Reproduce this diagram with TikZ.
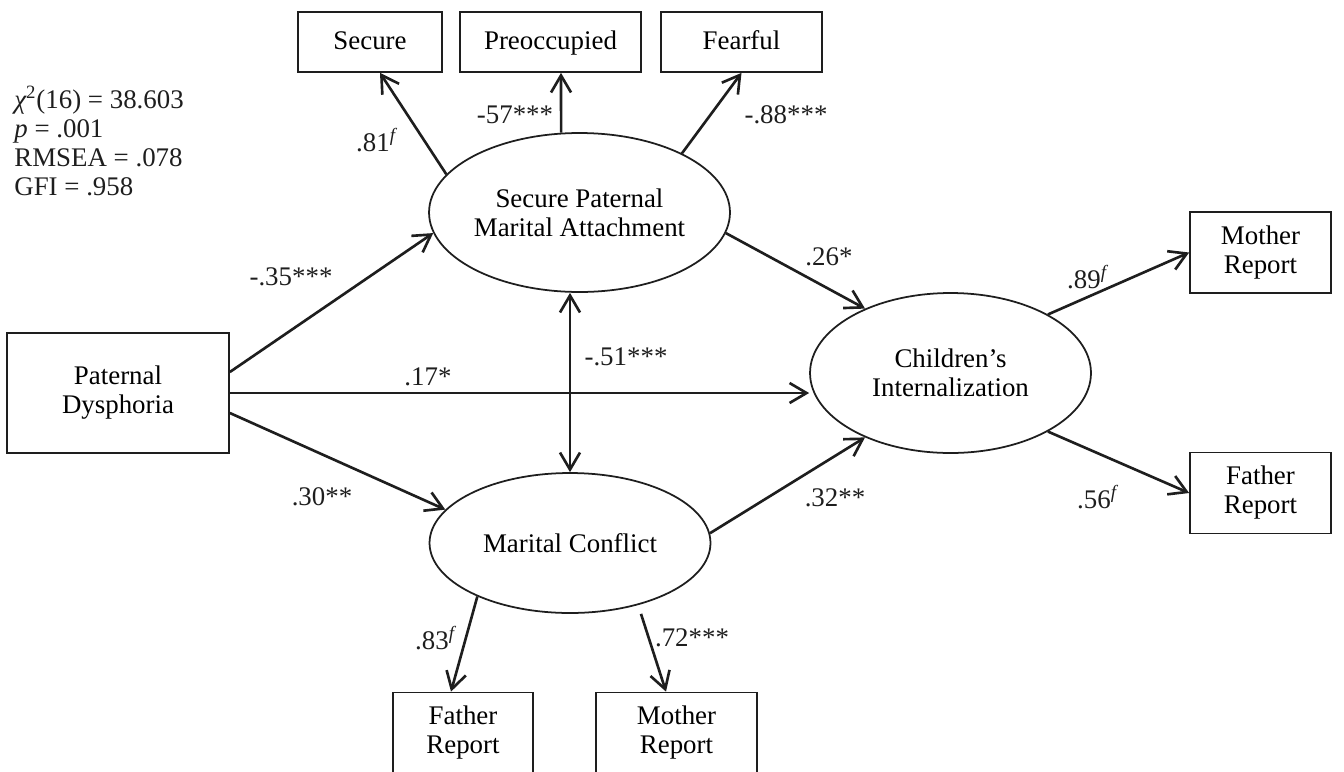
\documentclass[tikz,border=0pt]{standalone}
\usepackage{fontspec}
\setmainfont{Liberation Serif}
\usetikzlibrary{shapes.geometric, arrows.meta, positioning}
\definecolor{inkgray}{RGB}{30, 30, 30}
\tikzset{
  obsbox/.style={rectangle, draw=inkgray, line width=1pt, inner sep=0pt,
    align=center, minimum height=1.2cm},
  latent/.style={ellipse, draw=inkgray, line width=1pt, inner sep=0pt,
    align=center},
  effect/.style={line width=1.5pt, color=inkgray,
    -{Straight Barb[length=3.4mm, width=4mm]}},
  covar/.style={effect, {Straight Barb[length=3.4mm, width=4mm]}-{Straight Barb[length=3.4mm, width=4mm]}},
  coef/.style={inner sep=0pt, text=inkgray}
}

\begin{document}
\begin{tikzpicture}[
    x=0.02cm, y=-0.02cm,
    font=\fontsize{15.3}{16.5}\selectfont,
    report/.style={obsbox, minimum width=2.82cm, minimum height=1.62cm},
    style box/.style={obsbox, text height=2.2ex, text depth=0.3ex},
]
\clip (0,0) rectangle (1344,771);

\node (fitidx)  [coef, anchor=west, align=left] at (14,141)
      {{\itshape χ}\textsuperscript{2}(16) = 38.603\\ {\itshape p} = .001\\
       RMSEA = .078\\ GFI = .958};

\node (secure)  [style box, minimum width=2.88cm] at (370,42)    {Secure};
\node (preocc)  [style box, minimum width=3.62cm] at (550.5,42)  {Preoccupied};
\node (fearful) [style box, minimum width=3.22cm] at (741.5,42)  {Fearful};

\node (spma) [latent, minimum width=6.02cm, minimum height=3.18cm] at (579.5,212.5)
      {Secure Paternal\\Marital Attachment};
\node (pd)   [obsbox, minimum width=4.44cm, minimum height=2.4cm] at (118,393)
      {Paternal\\Dysphoria};
\node (mc)   [latent, minimum width=5.62cm, minimum height=2.8cm] at (570,543)
      {Marital Conflict};
\node (ci)   [latent, minimum width=5.62cm, minimum height=3.2cm] at (950.5,373)
      {Children’s\\Internalization};

\node (momr) [report] at (1260.5,252.5) {Mother\\Report};
\node (fatr) [report] at (1260.5,493)   {Father\\Report};
\node (fatb) [report, minimum width=2.8cm]  at (463,733)   {Father\\Report};
\node (momb) [report, minimum width=3.22cm] at (676.5,733) {Mother\\Report};

\draw[effect] (pd.east)                  -- (pd.east -| ci.west);
\draw[effect] ([yshift=0.42cm]pd.east)   -- (spma.188);
\draw[effect] ([yshift=-0.4cm]pd.east)   -- (mc.165);
\draw[covar]  (mc.north |- spma.south)   -- (mc.north);
\draw[effect] (spma.352)                 -- (ci.143);
\draw[effect] (mc.4)                     -- (ci.217);
\draw[effect] (ci.31)                    -- (momr.west);
\draw[effect] (ci.-31)                   -- (fatr.west);
\draw[effect] (spma.164)                 -- ([xshift=0.2cm]secure.south);
\draw[effect] (spma.103)                 -- ([xshift=0.21cm]preocc.south);
\draw[effect] (spma.30)                  -- (fearful.south);
\draw[effect] (mc.210)                   -- ([xshift=-0.24cm]fatb.north);
\draw[effect] ([xshift=1.42cm]mc.south)  -- ([xshift=-0.21cm]momb.north);

\node (lsec)  [coef] at (376,140)  {.81\textsuperscript{\itshape f}};
\node (lpre)  [coef] at (515,115)  {-57***};
\node (lfea)  [coef] at (786,115)  {-.88***};
\node (lpds)  [coef] at (291,277)  {-.35***};
\node (lpdc)  [coef] at (428,377)  {.17*};
\node (lpdm)  [coef] at (322,497)  {.30**};
\node (lcov)  [coef] at (626,357)  {-.51***};
\node (lsci)  [coef] at (829,257)  {.26*};
\node (lmci)  [coef] at (835,498)  {.32**};
\node (lmom)  [coef] at (1087,277) {.89\textsuperscript{\itshape f}};
\node (lfat)  [coef] at (1097,497) {.56\textsuperscript{\itshape f}};
\node (lfb)   [coef] at (435,638)  {.83\textsuperscript{\itshape f}};
\node (lmb)   [coef] at (692,638)  {.72***};
\end{tikzpicture}
\end{document}
